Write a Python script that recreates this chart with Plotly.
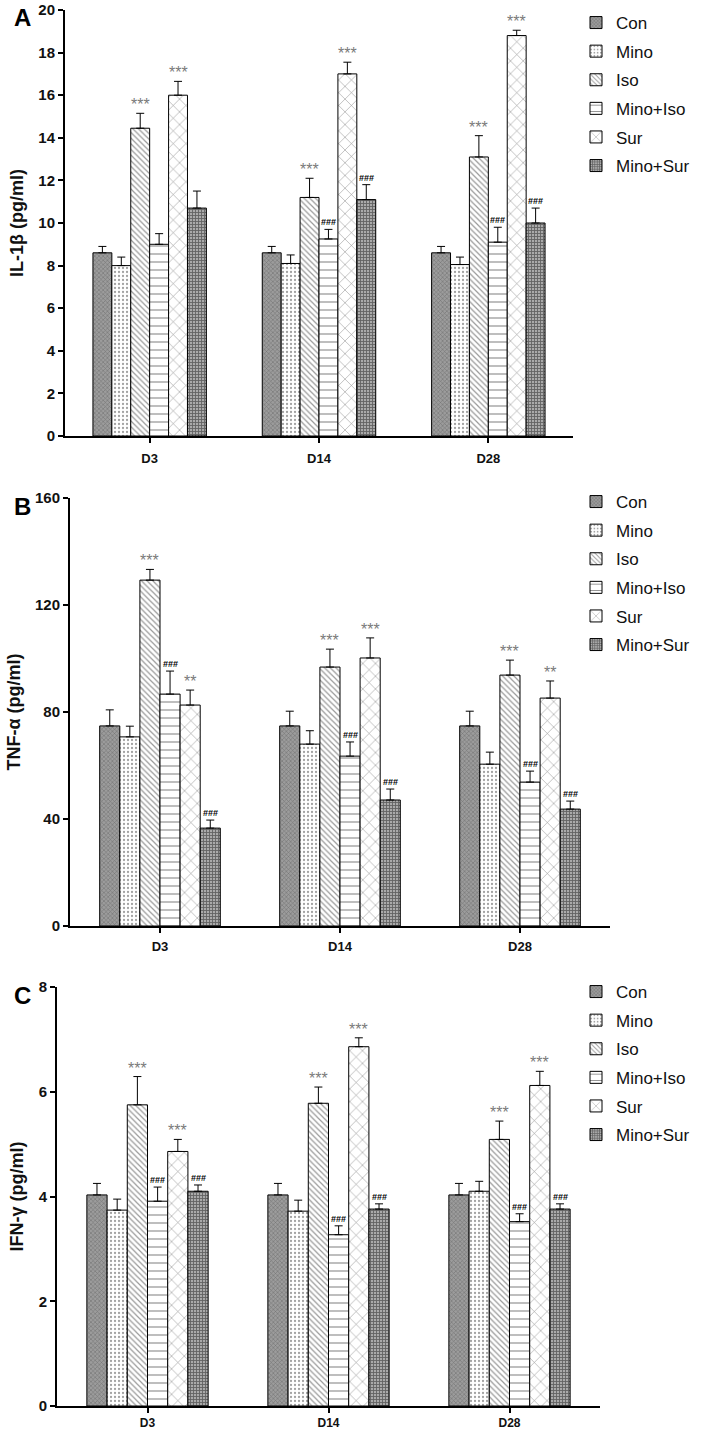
import plotly.graph_objects as go

days = ["D3", "D14", "D28"]
groups = ["Con", "Mino", "Iso", "Mino+Iso", "Sur", "Mino+Sur"]

# Panel A: IL-1beta (pg/ml), one list per group over days
il1b_mean = [
    [8.6, 8.6, 8.6],
    [8.0, 8.1, 8.05],
    [14.45, 11.2, 13.1],
    [9.0, 9.25, 9.1],
    [16.0, 17.0, 18.8],
    [10.7, 11.1, 10.0],
]
il1b_err = [
    [0.3, 0.3, 0.3],
    [0.4, 0.4, 0.35],
    [0.7, 0.9, 1.0],
    [0.5, 0.45, 0.7],
    [0.65, 0.55, 0.25],
    [0.8, 0.7, 0.7],
]
il1b_sig = [
    ["", "", ""],
    ["", "", ""],
    ["***", "***", "***"],
    ["", "###", "###"],
    ["***", "***", "***"],
    ["", "###", "###"],
]

# Panel B: TNF-alpha (pg/ml)
tnf_mean = [
    [74.8, 74.8, 74.8],
    [70.7, 68.0, 60.5],
    [129.3, 96.8, 93.8],
    [86.7, 63.5, 53.8],
    [82.6, 100.2, 85.2],
    [36.6, 47.1, 43.7],
]
tnf_err = [
    [6.0, 5.5, 5.5],
    [4.0, 5.0, 4.5],
    [4.0, 6.7, 5.6],
    [8.6, 5.3, 4.1],
    [5.6, 7.5, 6.4],
    [3.0, 4.1, 3.0],
]
tnf_sig = [
    ["", "", ""],
    ["", "", ""],
    ["***", "***", "***"],
    ["###", "###", "###"],
    ["**", "***", "**"],
    ["###", "###", "###"],
]

# Panel C: IFN-gamma (pg/ml)
ifn_mean = [
    [4.03, 4.03, 4.03],
    [3.74, 3.72, 4.1],
    [5.75, 5.78, 5.09],
    [3.91, 3.27, 3.52],
    [4.86, 6.86, 6.12],
    [4.1, 3.76, 3.76],
]
ifn_err = [
    [0.22, 0.22, 0.22],
    [0.21, 0.21, 0.19],
    [0.54, 0.31, 0.35],
    [0.27, 0.17, 0.15],
    [0.23, 0.17, 0.27],
    [0.12, 0.1, 0.1],
]
ifn_sig = [
    ["", "", ""],
    ["", "", ""],
    ["***", "***", "***"],
    ["###", "###", "###"],
    ["***", "***", "***"],
    ["###", "###", "###"],
]

W, H = 709, 1434
MT, MB = 8, 14
FONT = "Liberation Sans, Arial, sans-serif"
BARGAP = 0.33


def fy(pix):
    """Pixel row from the top of the page -> paper fraction of the plot area."""
    return 1 - (pix - MT) / (H - MT - MB)


styles = [
    dict(color="#8a8a8a", pattern=dict(shape="x", fgcolor="#4a4a4a", bgcolor="#9c9c9c", size=3, solidity=0.35)),
    dict(color="white", pattern=dict(shape=".", fgcolor="#444", bgcolor="white", size=4, solidity=0.25)),
    dict(color="white", pattern=dict(shape="\\", fgcolor="#333", bgcolor="white", size=4, solidity=0.3)),
    dict(color="white", pattern=dict(shape="-", fgcolor="#222", bgcolor="white", size=8, solidity=0.15)),
    dict(color="white", pattern=dict(shape="x", fgcolor="#222", bgcolor="white", size=9, solidity=0.12)),
    dict(color="#666", pattern=dict(shape="+", fgcolor="#1a1a1a", bgcolor="#aaaaaa", size=3, solidity=0.5)),
]

panels = [
    dict(mean=il1b_mean, err=il1b_err, sig=il1b_sig, title="IL-1β (pg/ml)", rng=[0, 20], dtick=2,
         x=(65, 573), y=(10, 436), letter="A", leg=(576, 5), standoff=4, xfs=13),
    dict(mean=tnf_mean, err=tnf_err, sig=tnf_sig, title="TNF-α (pg/ml)", rng=[0, 160], dtick=40,
         x=(70, 610), y=(498, 926), letter="B", leg=(576, 484), standoff=2, xfs=13),
    dict(mean=ifn_mean, err=ifn_err, sig=ifn_sig, title="IFN-γ (pg/ml)", rng=[0, 8], dtick=2,
         x=(57, 600), y=(987, 1406), letter="C", leg=(576, 974), standoff=0, xfs=12),
]

fig = go.Figure()
annotations = []
layout = {}

for p_i, p in enumerate(panels):
    sfx = "" if p_i == 0 else str(p_i + 1)
    xa, ya = "x" + sfx, "y" + sfx
    leg = "legend" + sfx
    for g_i, g in enumerate(groups):
        st = styles[g_i]
        fig.add_trace(go.Bar(
            x=days, y=p["mean"][g_i], name=g,
            xaxis=xa, yaxis=ya, legend=leg, legendgroup=f"{p_i}-{g}",
            marker=dict(color=st["color"], pattern=st["pattern"],
                        line=dict(color="black", width=1)),
            error_y=dict(type="data", symmetric=False, array=p["err"][g_i],
                         arrayminus=[0] * len(days), color="black", thickness=1, width=4),
        ))
        # significance marks above error bars
        n = len(groups)
        bw = (1 - BARGAP) / n
        for d_i in range(len(days)):
            s = p["sig"][g_i][d_i]
            if not s:
                continue
            xpos = d_i - (1 - BARGAP) / 2 + (g_i + 0.5) * bw
            top = p["mean"][g_i][d_i] + p["err"][g_i][d_i]
            if s.startswith("*"):
                annotations.append(dict(x=xpos, y=top, xref=xa, yref=ya, text=s, showarrow=False,
                                        yanchor="bottom", yshift=-2,
                                        font=dict(family=FONT, size=16, color="#7a7a7a")))
            else:
                annotations.append(dict(x=xpos, y=top, xref=xa, yref=ya, text=s, showarrow=False,
                                        yanchor="bottom", yshift=0,
                                        font=dict(family=FONT, size=9, color="black", weight="bold")))
    x0, x1 = p["x"]
    y0, y1 = p["y"]
    layout["xaxis" + sfx] = dict(
        domain=[x0 / W, x1 / W], anchor=ya, type="category", range=[-0.5, 2.5],
        showline=True, linecolor="black", linewidth=2, ticks="outside", ticklen=5,
        tickcolor="black", tickwidth=2, showgrid=False, zeroline=False, automargin=False,
        ticklabelstandoff=p["standoff"],
        tickfont=dict(family=FONT, size=p["xfs"], color="#111", weight="bold"),
    )
    layout["yaxis" + sfx] = dict(
        domain=[fy(y1), fy(y0)], anchor=xa, range=p["rng"], dtick=p["dtick"],
        showline=True, linecolor="black", linewidth=2, ticks="outside", ticklen=5,
        tickcolor="black", tickwidth=2, showgrid=False, zeroline=False, automargin=False,
        tickfont=dict(family=FONT, size=15, color="#111", weight="bold"),
        title=dict(text=p["title"], standoff=10,
                   font=dict(family=FONT, size=18, color="#111", weight="bold")),
    )
    lx, ly = p["leg"]
    layout[leg] = dict(x=lx / W, y=fy(ly), xanchor="left", yanchor="top",
                       font=dict(family=FONT, size=17, color="#111"),
                       tracegroupgap=3.5, bgcolor="rgba(0,0,0,0)", itemwidth=30)
    annotations.append(dict(x=22 / W, y=fy(y0 + 8), xref="paper", yref="paper",
                            text=p["letter"], showarrow=False, xanchor="center", yanchor="middle",
                            font=dict(family=FONT, size=24, color="black", weight="bold")))

fig.update_layout(
    width=W, height=H, margin=dict(l=0, r=0, t=MT, b=MB),
    paper_bgcolor="white", plot_bgcolor="white",
    barmode="group", bargap=BARGAP, bargroupgap=0,
    showlegend=True, annotations=annotations,
    **layout,
)

# remove the browser's default 8px page margin so the figure sits at the window's corner
fig.write_html("out.html", config={"displayModeBar": False},
               post_script="document.body.style.margin='0';")
